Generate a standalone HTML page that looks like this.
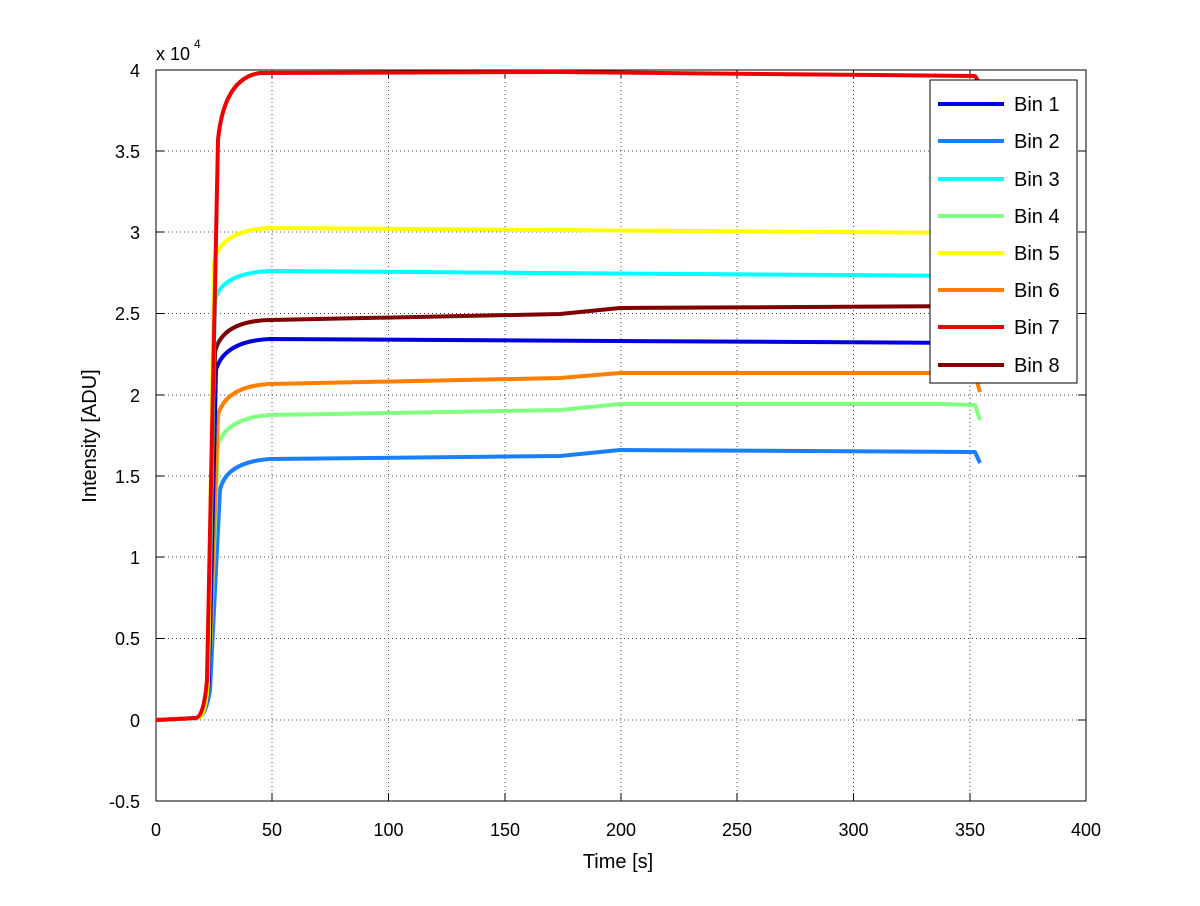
<!DOCTYPE html><html><head><style>body{margin:0;background:#fff}svg{font-family:"Liberation Sans",sans-serif}</style></head><body>
<svg width="1200" height="901" xmlns="http://www.w3.org/2000/svg">
<rect width="1200" height="901" fill="#fff"/>
<g stroke="#000" stroke-width="1" stroke-dasharray="1,3" opacity="0.7">
<line x1="388.5" y1="70" x2="388.5" y2="801"/><line x1="621" y1="70" x2="621" y2="801"/><line x1="853.5" y1="70" x2="853.5" y2="801"/>
<line x1="272" y1="70" x2="272" y2="801"/><line x1="505" y1="70" x2="505" y2="801"/><line x1="737" y1="70" x2="737" y2="801"/><line x1="970" y1="70" x2="970" y2="801"/>
<line x1="156" y1="151" x2="1086" y2="151"/><line x1="156" y1="232" x2="1086" y2="232"/><line x1="156" y1="313.5" x2="1086" y2="313.5"/><line x1="156" y1="395" x2="1086" y2="395"/><line x1="156" y1="476" x2="1086" y2="476"/><line x1="156" y1="557" x2="1086" y2="557"/><line x1="156" y1="638.5" x2="1086" y2="638.5"/><line x1="156" y1="720" x2="1086" y2="720"/>
</g>
<rect x="156" y="70" width="930" height="731" fill="none" stroke="#000"/>
<g stroke="#000">
<path d="M272,801v-8M388.5,801v-8M505,801v-8M621,801v-8M737,801v-8M853.5,801v-8M970,801v-8M272,70v8M388.5,70v8M505,70v8M621,70v8M737,70v8M853.5,70v8M970,70v8"/>
<path d="M156,151h8M156,232h8M156,313.5h8M156,395h8M156,476h8M156,557h8M156,638.5h8M156,720h8M1086,151h-8M1086,232h-8M1086,313.5h-8M1086,395h-8M1086,476h-8M1086,557h-8M1086,638.5h-8M1086,720h-8"/>
</g>
<g font-size="18" text-anchor="middle" fill="#000">
<text x="156" y="836">0</text><text x="272" y="836">50</text><text x="388.5" y="836">100</text><text x="505" y="836">150</text><text x="621" y="836">200</text><text x="737" y="836">250</text><text x="853.5" y="836">300</text><text x="970" y="836">350</text><text x="1086" y="836">400</text>
<text x="618" y="868" font-size="20">Time [s]</text>
</g>
<g font-size="18" text-anchor="end" fill="#000">
<text x="140" y="77">4</text><text x="140" y="158">3.5</text><text x="140" y="239">3</text><text x="140" y="320">2.5</text><text x="140" y="402">2</text><text x="140" y="483">1.5</text><text x="140" y="564">1</text><text x="140" y="645">0.5</text><text x="140" y="727">0</text><text x="140" y="808">-0.5</text>
</g>
<text x="156" y="60" font-size="18">x 10</text><text x="194" y="48" font-size="12">4</text>
<text transform="translate(96,436) rotate(-90)" font-size="20" text-anchor="middle">Intensity [ADU]</text>
<g fill="none" stroke-width="4" stroke-linejoin="round">
<path stroke="#1a7fff" d="M156,720 L198,718 Q206,716 210,690 L220,490 Q226,462 270,459 L560,456 L620,450 L975,452 L980,463"/>
<path stroke="#80ff80" d="M156,720 L198,718 Q206,716 209,680 L218,445 Q226,418 270,415 L560,410 L620,404 L940,404 L975,405 L980,420"/>
<path stroke="#ff8000" d="M156,720 L198,718 Q206,716 209,680 L218,415 Q226,386 270,384 L560,378 L620,373 L940,373 L975,375 L980,392"/>
<path stroke="#0000dd" d="M156,720 L198,718 Q206,716 209,680 L216,370 Q224,341 270,339 L975,343 L980,346"/>
<path stroke="#800000" d="M156,720 L198,718 Q206,716 208,680 L215,352 Q222,321 270,320 L560,314 L620,308 L975,306 L980,312"/>
<path stroke="#00ffff" d="M156,720 L198,718 Q206,716 208,680 L215,300 Q222,273 270,271 L975,276 L980,280"/>
<path stroke="#ffff00" d="M156,720 L198,718 Q206,716 208,680 L214,262 Q220,230 270,228 L975,233 L980,236"/>
<path stroke="#ee0000" d="M156,720 L196,718 Q204,716 207,680 L218,140 Q224,78 260,73 L560,72 L975,76 L980,84"/>
</g>
<rect x="930" y="80" width="147" height="303" fill="#fff" stroke="#000"/>
<g stroke-width="4">
<line x1="938" y1="104" x2="1004" y2="104" stroke="#0000dd"/>
<line x1="938" y1="141" x2="1004" y2="141" stroke="#1a7fff"/>
<line x1="938" y1="179" x2="1004" y2="179" stroke="#00ffff"/>
<line x1="938" y1="216" x2="1004" y2="216" stroke="#80ff80"/>
<line x1="938" y1="253" x2="1004" y2="253" stroke="#ffff00"/>
<line x1="938" y1="290" x2="1004" y2="290" stroke="#ff8000"/>
<line x1="938" y1="327" x2="1004" y2="327" stroke="#ee0000"/>
<line x1="938" y1="365" x2="1004" y2="365" stroke="#800000"/>
</g>
<g font-size="20">
<text x="1014" y="111">Bin 1</text><text x="1014" y="148">Bin 2</text><text x="1014" y="186">Bin 3</text><text x="1014" y="223">Bin 4</text><text x="1014" y="260">Bin 5</text><text x="1014" y="297">Bin 6</text><text x="1014" y="334">Bin 7</text><text x="1014" y="372">Bin 8</text>
</g>
</svg></body></html>
